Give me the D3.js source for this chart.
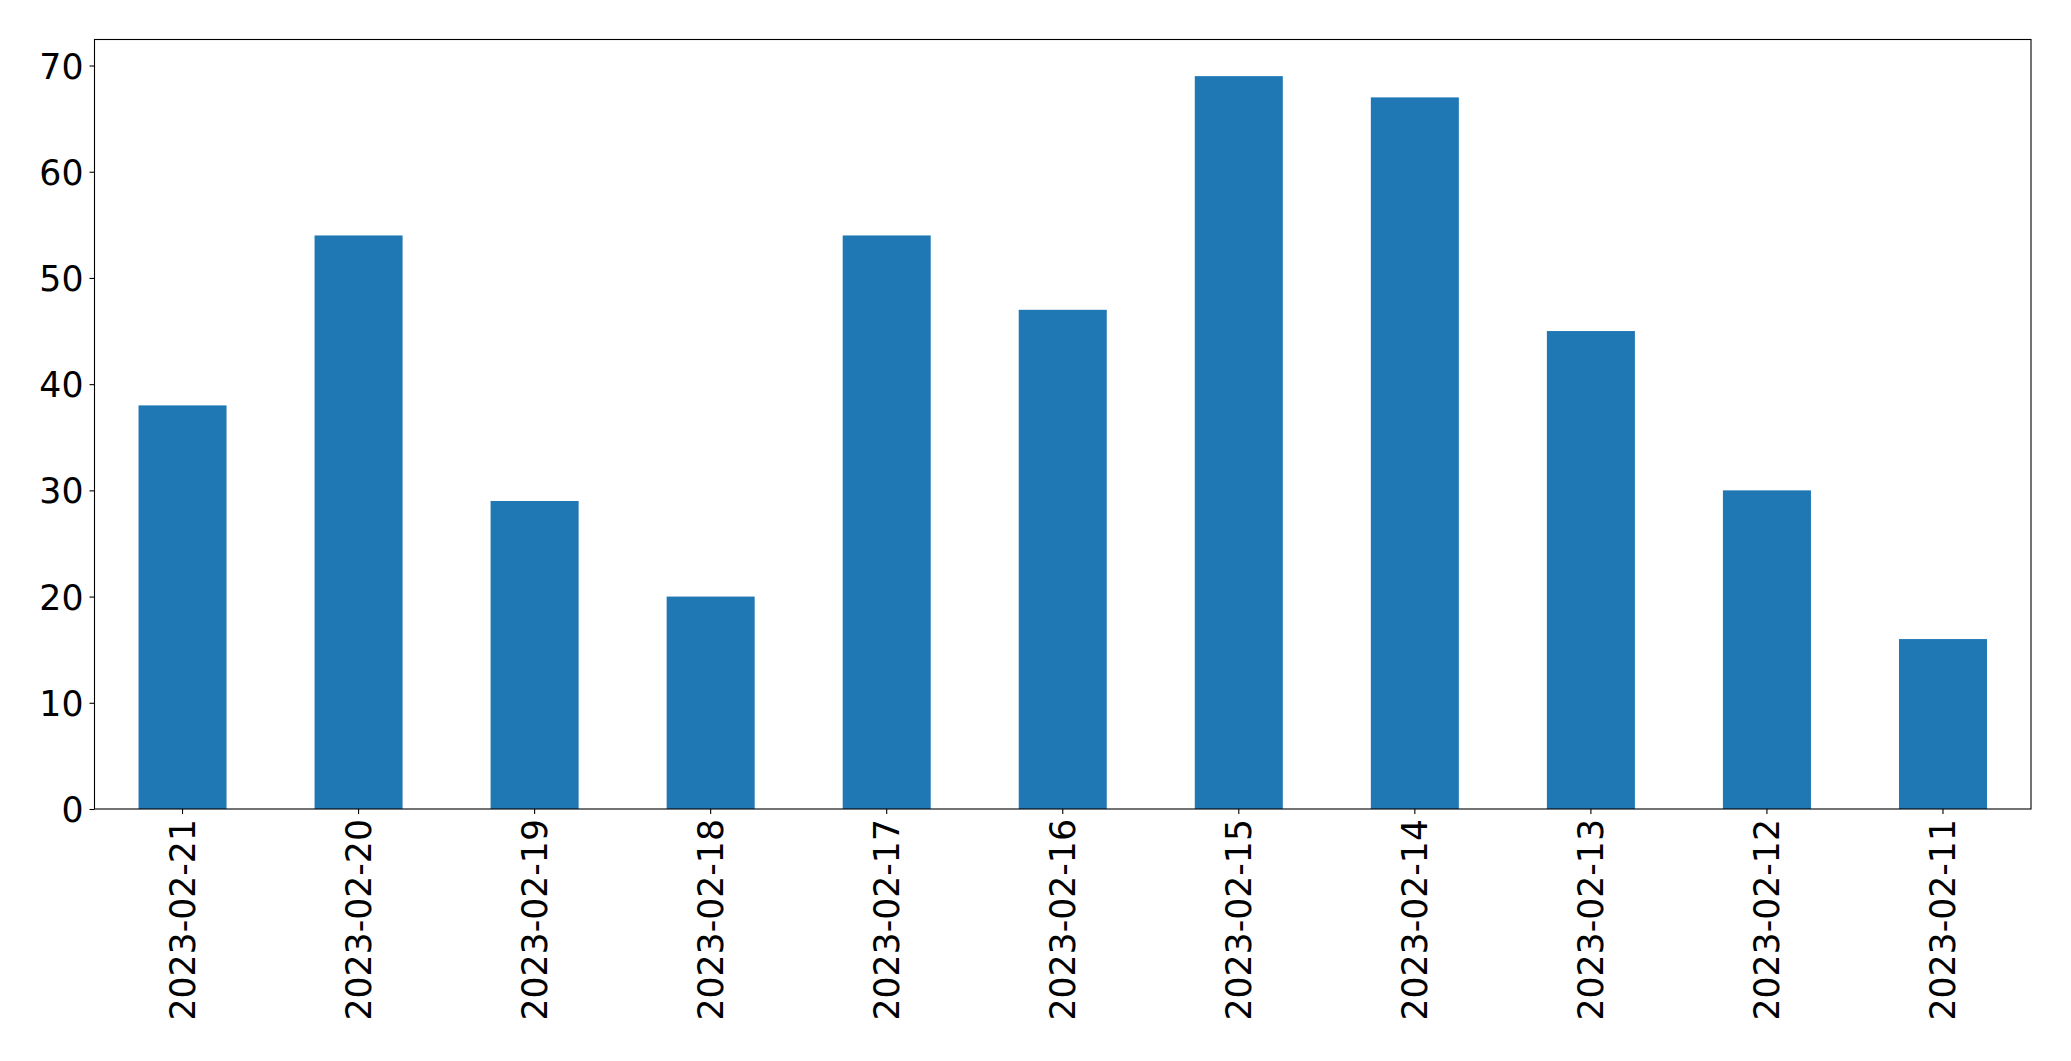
<!DOCTYPE html>
<html>
<head>
<meta charset="utf-8">
<script src="https://d3js.org/d3.v7.min.js"></script>
<style>
  body { margin: 0; background: #fff; }
  text { font-family: "DejaVu Sans", sans-serif; fill: #000; }
</style>
</head>
<body>
<script>
// data
var dates = ["2023-02-21", "2023-02-20", "2023-02-19", "2023-02-18", "2023-02-17", "2023-02-16",
             "2023-02-15", "2023-02-14", "2023-02-13", "2023-02-12", "2023-02-11"];
var counts = [38, 54, 29, 20, 54, 47, 69, 67, 45, 30, 16];
var yTicks = [0, 10, 20, 30, 40, 50, 60, 70];

var width = 2071, height = 1061;
var margin = {top: 39.5, right: 40, bottom: 252, left: 94.5};
var w = width - margin.left - margin.right;
var h = height - margin.top - margin.bottom;

var svg = d3.select("body").append("svg")
  .attr("width", width)
  .attr("height", height);

var g = svg.append("g").attr("transform", "translate(" + margin.left + "," + margin.top + ")");

var x = d3.scaleBand()
  .domain(dates)
  .range([0, w])
  .paddingInner(0.5)
  .paddingOuter(0.25);

var y = d3.scaleLinear()
  .domain([0, d3.max(counts) * 1.05])
  .range([h, 0]);

g.selectAll("rect.bar")
  .data(counts)
  .enter().append("rect")
  .attr("class", "bar")
  .attr("x", function(d, i) { return x(dates[i]); })
  .attr("width", x.bandwidth())
  .attr("y", function(d) { return y(d); })
  .attr("height", function(d) { return h - y(d); })
  .attr("fill", "#1f77b4");

// y axis
var yAxis = g.append("g")
  .call(d3.axisLeft(y).tickValues(yTicks).tickSize(5).tickPadding(6));
yAxis.select(".domain").remove();
yAxis.selectAll("text").style("font-size", "34.7px").attr("dy", "0.36em");
yAxis.selectAll("line").attr("stroke", "#000").attr("stroke-width", 1.1);

// x axis
var xAxis = g.append("g")
  .attr("transform", "translate(0," + h + ")")
  .call(d3.axisBottom(x).tickSize(5).tickPadding(0));
xAxis.select(".domain").remove();
xAxis.selectAll("line").attr("stroke", "#000").attr("stroke-width", 1.1);
xAxis.selectAll("text")
  .style("font-size", "34.7px")
  .attr("text-anchor", "end")
  .attr("transform", "translate(0,10) rotate(-90)")
  .attr("x", 0)
  .attr("y", 0)
  .attr("dy", "0.36em");

// frame
g.append("rect")
  .attr("width", w)
  .attr("height", h)
  .attr("fill", "none")
  .attr("stroke", "#000")
  .attr("stroke-width", 1.1);
</script>
</body>
</html>
